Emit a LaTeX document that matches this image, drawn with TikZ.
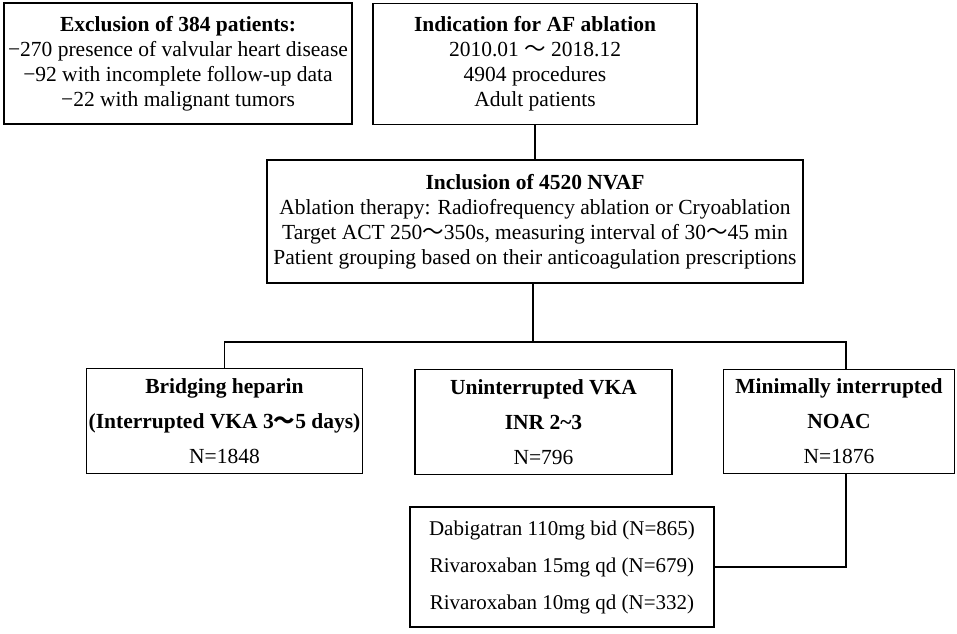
\documentclass[tikz,border=0pt]{standalone}
\usepackage{fontspec}
\setmainfont{Liberation Serif}
\newfontfamily\cjk{Noto Sans CJK SC}
\usepackage{tikz}
\newcommand{\wtilde}{{\cjk ～}}
\tikzstyle{toprow} = [rectangle, draw=black, line width=1.6pt, align=center, font=\fontsize{21.5}{25}\selectfont, inner sep=0pt]
\tikzstyle{group} = [rectangle, draw=black, line width=1.6pt, align=center, font=\fontsize{21.5}{35}\selectfont, inner sep=0pt]
\tikzstyle{line} = [line width=1.6pt]

\begin{document}
\begin{tikzpicture}[x=1pt, y=-1pt]

    \useasboundingbox (0,0) rectangle (957,633);

    % Nodes
    \node (excl) [toprow, minimum width=348pt, minimum height=121pt] at (178,63.5) {\textbf{Exclusion of 384 patients:}\\−270 presence of valvular heart disease\\−92 with incomplete follow-up data\\−22 with malignant tumors};
    \node (indic) [toprow, minimum width=324pt, minimum height=121pt] at (535,64) {\textbf{Indication for AF ablation}\\2010.01 \wtilde{} 2018.12\\4904 procedures\\Adult patients};
    \node (incl) [toprow, minimum width=536pt, minimum height=123pt] at (535,221.5) {\textbf{Inclusion of 4520 NVAF}\\Ablation therapy: Radiofrequency ablation or Cryoablation\\Target ACT 250\wtilde{}350s, measuring interval of 30\wtilde{}45 min\\Patient grouping based on their anticoagulation prescriptions};
    \node (bridge) [group, minimum width=276pt, minimum height=105pt] at (224.5,421) {\textbf{Bridging heparin}\\\textbf{(Interrupted VKA 3\wtilde{}5 days)}\\N=1848};
    \node (vka) [group, minimum width=257pt, minimum height=105pt] at (543.5,422) {\textbf{Uninterrupted VKA}\\\textbf{INR 2\textasciitilde3}\\N=796};
    \node (noac) [group, minimum width=231pt, minimum height=104pt] at (839,421.5) {\textbf{Minimally interrupted}\\\textbf{NOAC}\\N=1876};
    \node (doac) [group, font=\fontsize{21}{37}\selectfont, minimum width=304pt, minimum height=120pt] at (562,567) {Dabigatran 110mg bid (N=865)\\Rivaroxaban 15mg qd (N=679)\\Rivaroxaban 10mg qd (N=332)};

    \coordinate (split) at (533,342);
    \coordinate (noacx) at (846,0);

    % Lines
    \draw [line] (indic.south) -- (incl.north);
    \draw [line] (incl.south -| split) -- (split);
    \draw [line] (bridge.north) |- (split) -| (noac.north -| noacx);
    \draw [line] (noac.south -| noacx) |- (doac.east);

\end{tikzpicture}
\end{document}
